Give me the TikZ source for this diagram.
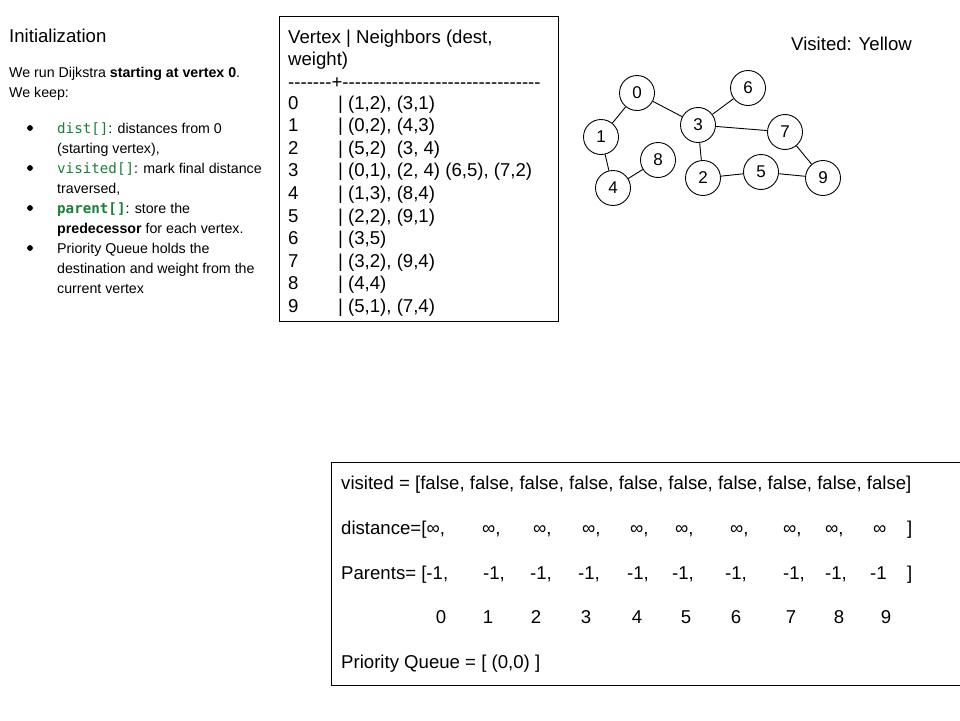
\documentclass[tikz,border=0pt]{standalone}
\usepackage{fontspec}
\setmainfont{Liberation Sans}
\setmonofont{DejaVu Sans Mono}
\usetikzlibrary{positioning}
\definecolor{codegreen}{RGB}{24,128,56}
\newcommand\dashrun[1]{\foreach \k in {1,...,#1}{-\kern0pt}}

\begin{document}
\begin{tikzpicture}[x=1pt,y=-1pt,
  txt/.style={anchor=base west,inner sep=0pt,font=\fontsize{18.6}{22}\selectfont},
  num/.style={anchor=base,inner sep=0pt,font=\fontsize{18.6}{22}\selectfont},
  note/.style={anchor=base west,inner sep=0pt,font=\fontsize{14.2}{20}\selectfont},
  vert/.style={draw,circle,minimum size=35pt,inner sep=0pt,line width=0.9pt,font=\fontsize{17}{17}\selectfont},
  edge/.style={line width=0.9pt},
  frame/.style={draw,line width=1pt}]
\useasboundingbox (0,0) rectangle (960,720);

% left column
\node[txt] (title) at (9,42) {Initialization};
\node[note] (intro) at (9,77) {We run Dijkstra \textbf{starting at vertex 0}.};
\node[note] (keep) at (9,97) {We keep:};

\node[note] (l1) at (57,133) {\textcolor{codegreen}{\texttt{dist[]}}: distances from 0};
\node[note] (l2) at (57,153) {(starting vertex),};
\node[note] (l3) at (57,173) {\textcolor{codegreen}{\texttt{visited[]}}: mark final distance};
\node[note] (l4) at (57,193) {traversed,};
\node[note] (l5) at (57,213) {\textcolor{codegreen}{\texttt{\bfseries parent[]}}: store the};
\node[note] (l6) at (57,233) {\textbf{predecessor} for each vertex.};
\node[note] (l7) at (57,253) {Priority Queue holds the};
\node[note] (l8) at (57,273) {destination and weight from the};
\node[note] (l9) at (57,293) {current vertex};
\foreach \b in {128,168,208,248}
  \fill (30,\b) circle (2.9pt);

% adjacency list
\draw[frame] (279.5,16.5) rectangle (558.5,321.5);
\node[txt] (head1) at (288,43) {Vertex | Neighbors (dest,};
\node[txt] (head2) at (288,65.5) {weight)};
\node[txt] (rule) at (288,88) {\dashrun{7}+\dashrun{32}};
\foreach \v/\nb [count=\i from 0] in {
  0/{(1,2), (3,1)},
  1/{(0,2), (4,3)},
  2/{(5,2)\ \ (3, 4)},
  3/{(0,1), (2, 4) (6,5), (7,2)},
  4/{(1,3), (8,4)},
  5/{(2,2), (9,1)},
  6/{(3,5)},
  7/{(3,2), (9,4)},
  8/{(4,4)},
  9/{(5,1), (7,4)}}{
  \node[txt] (row\v) at (288,109+22.6*\i) {\v};
  \node[txt] (adj\v) at (338,109+22.6*\i) {| \nb};
}

% graph
\node[txt] (legend) at (791,50) {Visited: Yellow};
\node[vert] (n0) at (637,93) {0};
\node[vert] (n6) at (748,88) {6};
\node[vert] (n3) at (698,125) {3};
\node[vert] (n7) at (785,132) {7};
\node[vert] (n1) at (601,137) {1};
\node[vert] (n8) at (658,160) {8};
\node[vert] (n5) at (761,172) {5};
\node[vert] (n2) at (703,178) {2};
\node[vert] (n9) at (823,178) {9};
\node[vert] (n4) at (613,188) {4};
\foreach \a/\b in {0/1,0/3,3/6,3/7,3/2,1/4,4/8,2/5,5/9,7/9}
  \draw[edge] (n\a) -- (n\b);

% state arrays
\draw[frame] (331.5,462.5) rectangle (961,685.5);
\node[txt] (visrow) at (341,489.5) {visited = [false, false, false, false, false, false, false, false, false, false]};
\node[txt] (distrow) at (341,534.5) {distance=[∞,};
\foreach \x [count=\i] in {482,533,582,630,675,730,783,825}
  \node[txt] (dist\i) at (\x,534.5) {∞,};
\node[txt] (dist9) at (873,534.5) {∞};
\node[txt] (distend) at (907,534.5) {]};
\node[txt] (parrow) at (341,579) {Parents= [-1,};
\foreach \x [count=\i] in {483,530,578,627,672,725,783,825}
  \node[txt] (par\i) at (\x,579) {-1,};
\node[txt] (par9) at (870,579) {-1};
\node[txt] (parend) at (907,579) {]};
\foreach \x [count=\i from 0] in {441,488,536,586,637,686,736,791,839,886}
  \node[num] (idx\i) at (\x,623.5) {\i};
\node[txt] (pq) at (341,668) {Priority Queue = [ (0,0) ]};

\end{tikzpicture}
\end{document}
